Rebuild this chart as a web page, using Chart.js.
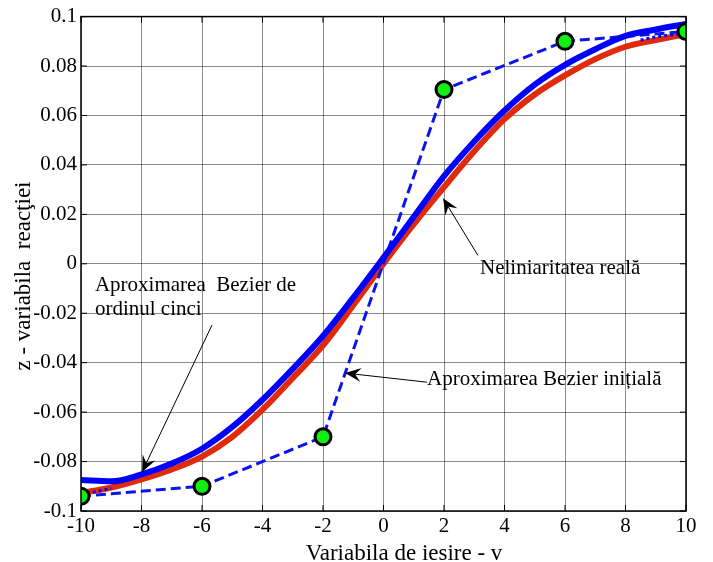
<!DOCTYPE html>
<html>
<head>
<meta charset="utf-8">
<script src="https://cdn.jsdelivr.net/npm/chart.js@4.4.1/dist/chart.umd.min.js"></script>
<style>
  html, body { margin: 0; padding: 0; background: #fff; }
  #wrap { width: 713px; height: 562px; position: relative; }
</style>
</head>
<body>
<div id="wrap"><canvas id="c"></canvas></div>
<script>
// values
const xValues = [-10, -9, -8, -7, -6, -5, -4, -3, -2, -1, 0, 1, 2, 3, 4, 5, 6, 7, 8, 9, 10]
const bezierFifth = [-0.0875, -0.0880, -0.0852, -0.0808, -0.0748, -0.0660, -0.0550, -0.0425, -0.0292, -0.0137,
  0.0025, 0.0190, 0.0355, 0.0495, 0.0620, 0.0725, 0.0805, 0.0868, 0.0922, 0.0948, 0.0970]
const realCurve = [-0.0927, -0.0905, -0.0872, -0.0832, -0.0780, -0.0700, -0.0590, -0.0462, -0.0330, -0.0168,
  0.0000, 0.0160, 0.0310, 0.0455, 0.0585, 0.0685, 0.0762, 0.0828, 0.0878, 0.0905, 0.0930]
const controlX = [-10, -6, -2, 2, 6, 10]
const controlY = [-0.094, -0.090, -0.070, 0.0705, 0.090, 0.094]
const dottedX = [-10, -9.5, -9, null, 8.5, 9, 9.5, 10]
const dottedY = [-0.0932, -0.0922, -0.0908, null, 0.0905, 0.0918, 0.0926, 0.0932]
const xTicks = [-10, -8, -6, -4, -2, 0, 2, 4, 6, 8, 10]
const yTicks = [-0.1, -0.08, -0.06, -0.04, -0.02, 0, 0.02, 0.04, 0.06, 0.08, 0.1]

const serif = "'Liberation Serif', 'Times New Roman', serif"

const pts = (xs, ys) => xs.map((x, i) => ({ x: x === null ? NaN : x, y: ys[i] }))

// notes in data coordinates
const notes = [
  { lines: ["Neliniaritatea reală"], x: 3.19, y: -0.0018, from: [3.12, 0.0034], to: [1.97, 0.0265] },
  { lines: ["Aproximarea Bezier inițială"], x: 1.44, y: -0.047, from: [1.44, -0.0479], to: [-1.27, -0.0442] },
  { lines: ["Aproximarea  Bezier de", "ordinul cinci"], x: -9.54, y: -0.0087, from: [-5.67, -0.0248], to: [-7.98, -0.0842] },
]

function arrow(ctx, x1, y1, x2, y2) {
  const a = Math.atan2(y2 - y1, x2 - x1)
  const L = 16, W = 7, N = 10
  const c = Math.cos(a), s = Math.sin(a)
  ctx.beginPath()
  ctx.moveTo(x1, y1)
  ctx.lineTo(x2 - c * N, y2 - s * N)
  ctx.stroke()
  ctx.beginPath()
  ctx.moveTo(x2, y2)
  ctx.lineTo(x2 - L * c + W * s, y2 - L * s - W * c)
  ctx.lineTo(x2 - N * c, y2 - N * s)
  ctx.lineTo(x2 - L * c - W * s, y2 - L * s + W * c)
  ctx.closePath()
  ctx.fill()
}

const frame = {
  id: "frame",
  afterDraw(chart) {
    const { ctx, chartArea: a, scales } = chart
    const sx = scales.x, sy = scales.y
    ctx.save()
    ctx.strokeStyle = "#000"
    ctx.lineWidth = 1.5
    ctx.strokeRect(a.left, a.top, a.right - a.left, a.bottom - a.top)
    ctx.lineWidth = 1
    ctx.beginPath()
    xTicks.forEach((v) => {
      const p = sx.getPixelForValue(v)
      ctx.moveTo(p, a.bottom); ctx.lineTo(p, a.bottom - 6)
      ctx.moveTo(p, a.top); ctx.lineTo(p, a.top + 6)
    })
    yTicks.forEach((v) => {
      const p = sy.getPixelForValue(v)
      ctx.moveTo(a.left, p); ctx.lineTo(a.left + 6, p)
      ctx.moveTo(a.right, p); ctx.lineTo(a.right - 6, p)
    })
    ctx.stroke()

    // annotations
    ctx.fillStyle = "#000"
    ctx.font = "21px " + serif
    ctx.textBaseline = "middle"
    ctx.textAlign = "left"
    notes.forEach((n) => {
      const tx = sx.getPixelForValue(n.x), ty = sy.getPixelForValue(n.y)
      n.lines.forEach((t, i) => ctx.fillText(t, tx, ty + i * 24))
      arrow(ctx, sx.getPixelForValue(n.from[0]), sy.getPixelForValue(n.from[1]),
        sx.getPixelForValue(n.to[0]), sy.getPixelForValue(n.to[1]))
    })

    // axis titles
    ctx.textAlign = "center"
    ctx.textBaseline = "alphabetic"
    ctx.font = "23px " + serif
    ctx.fillText("Variabila de iesire - v", 404, 560)
    ctx.translate(30, 276)
    ctx.rotate(-Math.PI / 2)
    ctx.fillText("z - variabila  reacţiei", 0, 0)
    ctx.restore()
  },
}

new Chart(document.getElementById("c"), {
  type: "line",
  data: {
    datasets: [
      {
        data: pts(controlX, controlY),
        showLine: false,
        pointRadius: 8,
        pointBackgroundColor: "#11ee11",
        pointBorderColor: "#000",
        pointBorderWidth: 3,
        order: 0,
      },
      {
        data: pts(xValues, bezierFifth),
        borderColor: "#0000ff",
        borderWidth: 6,
        pointRadius: 0,
        cubicInterpolationMode: "monotone",
        order: 1,
      },
      {
        data: pts(controlX, controlY),
        borderColor: "#0a14f0",
        borderWidth: 3,
        borderDash: [10, 5],
        pointRadius: 0,
        tension: 0,
        order: 2,
      },
      {
        data: pts(dottedX, dottedY),
        borderColor: "#0000ff",
        borderWidth: 3,
        borderDash: [3, 3],
        pointRadius: 0,
        spanGaps: false,
        order: 3,
      },
      {
        data: pts(xValues, realCurve),
        borderColor: "#e02a0a",
        borderWidth: 6,
        pointRadius: 0,
        cubicInterpolationMode: "monotone",
        order: 4,
      },
    ],
  },
  options: {
    animation: false,
    responsive: true,
    maintainAspectRatio: false,
    layout: { padding: { top: 16, right: 27, left: 0, bottom: 0 } },
    plugins: { legend: { display: false }, tooltip: { enabled: false } },
    events: [],
    scales: {
      x: {
        type: "linear",
        min: -10,
        max: 10,
        afterBuildTicks: (s) => { s.ticks = xTicks.map((v) => ({ value: v })) },
        afterFit: (s) => { s.height = 51 },
        grid: { color: "rgba(0,0,0,0.45)", lineWidth: 1, drawTicks: false },
        border: { display: false },
        ticks: { color: "#000", font: { family: serif, size: 21 }, padding: 3, maxRotation: 0 },
      },
      y: {
        min: -0.1,
        max: 0.1,
        afterBuildTicks: (s) => { s.ticks = yTicks.map((v) => ({ value: v })) },
        afterFit: (s) => { s.width = 81 },
        grid: { color: "rgba(0,0,0,0.45)", lineWidth: 1, drawTicks: false },
        border: { display: false },
        ticks: {
          color: "#000",
          font: { family: serif, size: 21 },
          padding: 4,
          callback: (v) => String(+v.toFixed(2)),
        },
      },
    },
  },
  plugins: [frame],
})
</script>
</body>
</html>
